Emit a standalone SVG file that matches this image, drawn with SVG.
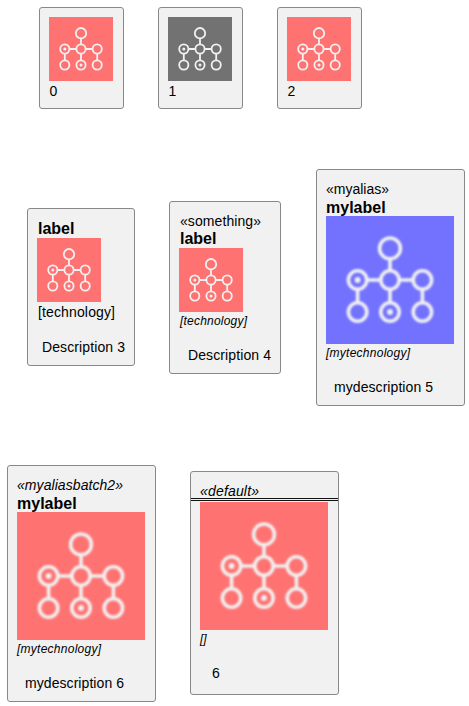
<svg xmlns="http://www.w3.org/2000/svg" width="469" height="706" viewBox="0 0 469 706">
<style>
.box{fill:#F1F1F1;stroke:#888888;stroke-width:1}
text{font-family:"Liberation Sans",Arial,sans-serif;fill:#000;font-size:14px}
.b{font-weight:bold;font-size:16px}
.i{font-style:italic;font-size:12px}
.ic{fill:none;stroke:#F1F1F1;stroke-width:1.8}
.d{fill:#F1F1F1}
.big{filter:url(#soft)}
</style>
<defs>
<filter id="soft" x="-5%" y="-5%" width="110%" height="110%"><feGaussianBlur stdDeviation="0.8"/></filter>
<symbol id="icon" viewBox="0 0 64 64">
<g class="ic">
<circle cx="32" cy="16.2" r="5.2"/>
<circle cx="15.8" cy="32" r="4.6"/>
<circle cx="32" cy="32" r="4.6"/>
<circle cx="48.2" cy="32" r="4.6"/>
<circle cx="15.8" cy="48" r="4.6"/>
<circle cx="32" cy="48" r="4.6"/>
<circle cx="48.2" cy="48" r="4.6"/>
<path d="M32 21.4V27.4M20.4 32H27.4M36.6 32H43.6M15.8 36.6V43.4M32 36.6V43.4M48.2 36.6V43.4"/>
</g>
<circle class="d" cx="15.8" cy="32" r="1.5"/>
<circle class="d" cx="32" cy="48" r="1.5"/>
</symbol>
</defs>
<g id="connectors"/>
<g id="node0">
<rect class="box" x="39.5" y="7.5" width="84" height="101" rx="2.5"/>
<rect x="49" y="17" width="64" height="64" fill="#FF7272"/>
<use href="#icon" x="49" y="17" width="64" height="64"/>
<text x="49.5" y="96">0</text>
</g>
<g id="node1">
<rect class="box" x="158.5" y="7.5" width="84" height="101" rx="2.5"/>
<rect x="168" y="17" width="64" height="64" fill="#727272"/>
<use href="#icon" x="168" y="17" width="64" height="64"/>
<text x="168.5" y="96">1</text>
</g>
<g id="node2">
<rect class="box" x="277.5" y="7.5" width="84" height="101" rx="2.5"/>
<rect x="287" y="17" width="64" height="64" fill="#FF7272"/>
<use href="#icon" x="287" y="17" width="64" height="64"/>
<text x="287.5" y="96">2</text>
</g>
<g id="node3">
<rect class="box" x="27.5" y="208.5" width="107" height="157" rx="2.5"/>
<text class="b" x="38" y="234">label</text>
<rect x="37" y="238" width="64" height="64" fill="#FF7272"/>
<use href="#icon" x="37" y="238" width="64" height="64"/>
<text x="38" y="317" textLength="77">[technology]</text>
<text x="42" y="352" textLength="83">Description 3</text>
</g>
<g id="node4">
<rect class="box" x="169.5" y="201.5" width="111" height="172" rx="2.5"/>
<text x="180" y="226" textLength="81">«something»</text>
<text class="b" x="180" y="244">label</text>
<rect x="179" y="248" width="64" height="64" fill="#FF7272"/>
<use href="#icon" x="179" y="248" width="64" height="64"/>
<text class="i" x="180" y="325" textLength="67">[technology]</text>
<text x="188" y="360" textLength="83">Description 4</text>
</g>
<g id="node5">
<rect class="box" x="316.5" y="169.5" width="148" height="236" rx="2.5"/>
<text x="326" y="194" textLength="63">«myalias»</text>
<text class="b" x="326" y="213">mylabel</text>
<rect x="326" y="216" width="128" height="128" fill="#7272FF"/>
<use class="big" href="#icon" x="326" y="216" width="128" height="128"/>
<text class="i" x="326" y="357" textLength="84">[mytechnology]</text>
<text x="334" y="392" textLength="99">mydescription 5</text>
</g>
<g id="node6">
<rect class="box" x="7.5" y="465.5" width="148" height="236" rx="2.5"/>
<text x="17" y="490" font-style="italic" textLength="106">«myaliasbatch2»</text>
<text class="b" x="17" y="509">mylabel</text>
<rect x="17" y="512" width="128" height="128" fill="#FF7272"/>
<use class="big" href="#icon" x="17" y="512" width="128" height="128"/>
<text class="i" x="17" y="653" textLength="84">[mytechnology]</text>
<text x="25" y="688" textLength="99">mydescription 6</text>
</g>
<g id="node7">
<rect class="box" x="190.5" y="471.5" width="148" height="223" rx="2.5"/>
<text x="200" y="496" font-style="italic" textLength="59">«default»</text>
<path d="M191 498.5H338M191 500.5H338" stroke="#111" stroke-width="1" fill="none"/>
<rect x="200" y="502" width="128" height="128" fill="#FF7272"/>
<use class="big" href="#icon" x="200" y="502" width="128" height="128"/>
<text class="i" x="200" y="643">[]</text>
<text x="212" y="678">6</text>
</g>
</svg>
